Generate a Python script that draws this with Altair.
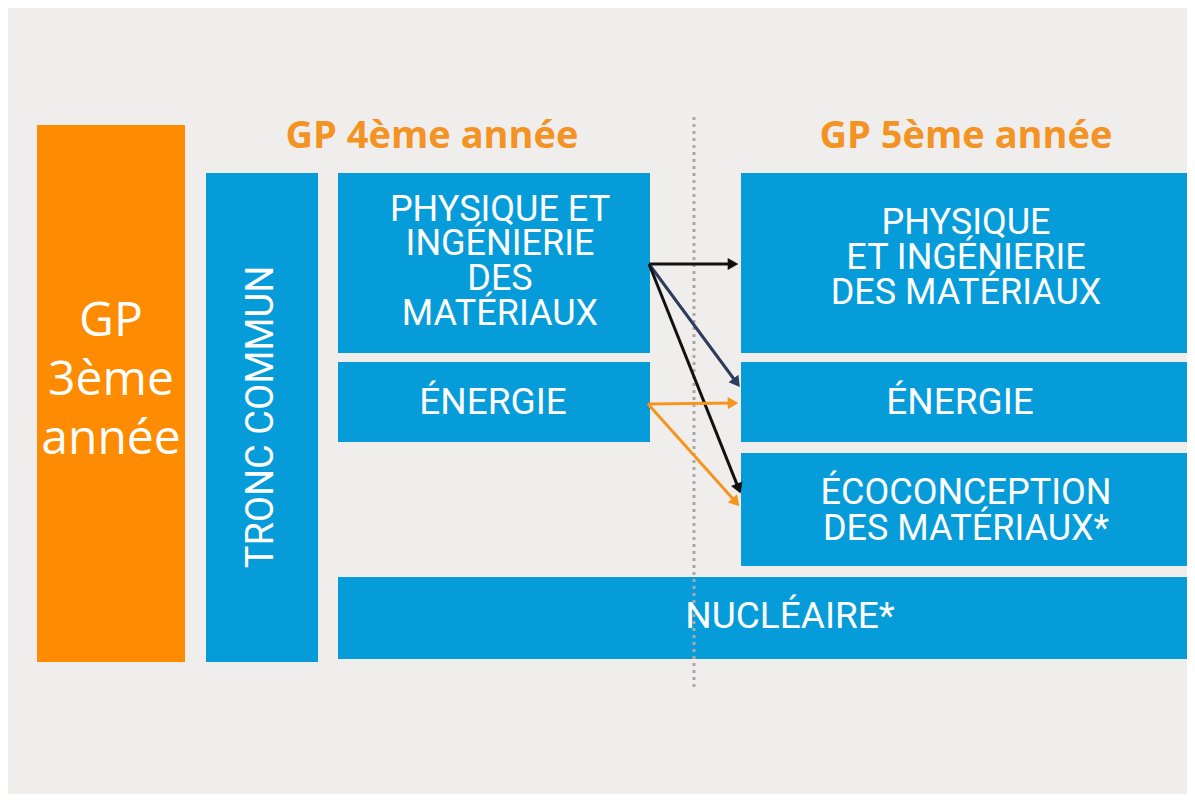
import math
import altair as alt
import pandas as pd

# ---- data (image pixel coordinates of the diagram) ----
box_names = ["GP 3ème année", "Tronc commun", "Physique 4A", "Énergie 4A",
             "Physique 5A", "Énergie 5A", "Écoconception", "Nucléaire"]
box_x1 = [37, 206, 338, 338, 741, 741, 741, 338]
box_x2 = [185, 318, 650, 650, 1190, 1190, 1190, 1190]
box_y1 = [125, 173, 173, 362, 173, 362, 453, 577]
box_y2 = [662, 662, 353, 442, 353, 442, 566, 659]
box_col = ["#fe8b00", "#069cda", "#069cda", "#069cda", "#069cda", "#069cda", "#069cda", "#069cda"]

label_text = ["GP", "3ème", "année", "TRONC COMMUN",
              "PHYSIQUE ET", "INGÉNIERIE", "DES", "MATÉRIAUX",
              "ÉNERGIE",
              "PHYSIQUE", "ET INGÉNIERIE", "DES MATÉRIAUX",
              "ÉNERGIE",
              "ÉCOCONCEPTION", "DES MATÉRIAUX*",
              "NUCLÉAIRE*"]
label_x = [111, 111, 111, 262,
           500, 500, 500, 500,
           493,
           966, 966, 966,
           960,
           966, 966,
           790]
label_y = [322, 381, 440, 417,
           210, 244, 279, 314,
           403,
           223, 258, 293,
           403,
           493, 529,
           617]
label_size = [48, 48, 48, 38,
              36, 36, 36, 36,
              37,
              36, 36, 36,
              37,
              36, 36,
              37]
label_angle = [0, 0, 0, 270,
               0, 0, 0, 0,
               0,
               0, 0, 0,
               0,
               0, 0,
               0]
label_font = ["Open Sans", "Open Sans", "Open Sans"] + ["Roboto"] * 13

title_text = ["GP 4ème année", "GP 5ème année"]
title_x = [432, 966]
title_y = [137, 137]

arrow_x1 = [649, 649, 649, 648, 648]
arrow_y1 = [264, 264, 264, 404, 404]
arrow_x2 = [742, 742, 742, 742, 742]
arrow_y2 = [264, 390, 497, 403, 509]
arrow_col = ["#111111", "#2e3b5c", "#111111", "#f7941d", "#f7941d"]

divider_x = [694]
divider_y1 = [117]
divider_y2 = [690]

# ---- tables ----
boxes = pd.DataFrame(dict(name=box_names, x1=box_x1, x2=box_x2, y1=box_y1, y2=box_y2, col=box_col))
labels = pd.DataFrame(dict(text=label_text, x=label_x, y=label_y, size=label_size,
                           angle=label_angle, font=label_font))
titles = pd.DataFrame(dict(text=title_text, x=title_x, y=title_y))

HEAD = 9
rows = []
for x1, y1, x2, y2, c in zip(arrow_x1, arrow_y1, arrow_x2, arrow_y2, arrow_col):
    dx, dy = x2 - x1, y2 - y1
    L = math.hypot(dx, dy)
    ux, uy = dx / L, dy / L
    cx, cy = x2 - ux * HEAD, y2 - uy * HEAD
    ang = math.degrees(math.atan2(dy, dx)) % 360
    rows.append(dict(x1=x1, y1=y1, x2=cx, y2=cy, col=c, ang=ang))
arrows = pd.DataFrame(rows)
divider = pd.DataFrame(dict(x=divider_x, y1=divider_y1, y2=divider_y2))

W, H = 1179, 786
xs = alt.Scale(domain=[8, 8 + W], nice=False, zero=False)
ys = alt.Scale(domain=[8, 8 + H], nice=False, zero=False, reverse=True)
X = lambda f: alt.X(f, type="quantitative", scale=xs, axis=None)
Y = lambda f: alt.Y(f, type="quantitative", scale=ys, axis=None)

rects = alt.Chart(boxes).mark_rect().encode(
    x=X("x1"), x2="x2", y=Y("y1"), y2="y2",
    color=alt.Color("col:N", scale=None),
)

div = alt.Chart(divider).mark_rule(color="#a9a9a9", strokeWidth=3, strokeDash=[3, 4]).encode(
    x=X("x"), y=Y("y1"), y2="y2"
)

lines = alt.Chart(arrows).mark_rule(strokeWidth=3).encode(
    x=X("x1"), y=Y("y1"), x2="x2", y2="y2",
    color=alt.Color("col:N", scale=None),
)
heads = alt.Chart(arrows).mark_point(shape="triangle-right", filled=True, size=150, opacity=1).encode(
    x=X("x2"), y=Y("y2"),
    angle=alt.Angle("ang:Q", scale=None),
    color=alt.Color("col:N", scale=None),
)


def text_layer(font):
    return alt.Chart(labels).transform_filter(alt.datum.font == font).mark_text(
        font=font, color="white", align="center", baseline="middle"
    ).encode(
        x=X("x"), y=Y("y"), text="text:N",
        size=alt.Size("size:Q", scale=None),
        angle=alt.Angle("angle:Q", scale=None),
    )


ttl = alt.Chart(titles).mark_text(
    font="Open Sans", fontWeight="bold", fontSize=38, color="#f39323", align="center", baseline="middle"
).encode(x=X("x"), y=Y("y"), text="text:N")

chart = alt.layer(rects, div, lines, heads, text_layer("Open Sans"), text_layer("Roboto"), ttl).properties(
    width=W, height=H, autosize=alt.AutoSizeParams(type="none"), padding=0,
    background="#f0eeed",
).configure_view(stroke=None)

chart.save("out.html", embed_options={"renderer": "svg", "actions": False})
